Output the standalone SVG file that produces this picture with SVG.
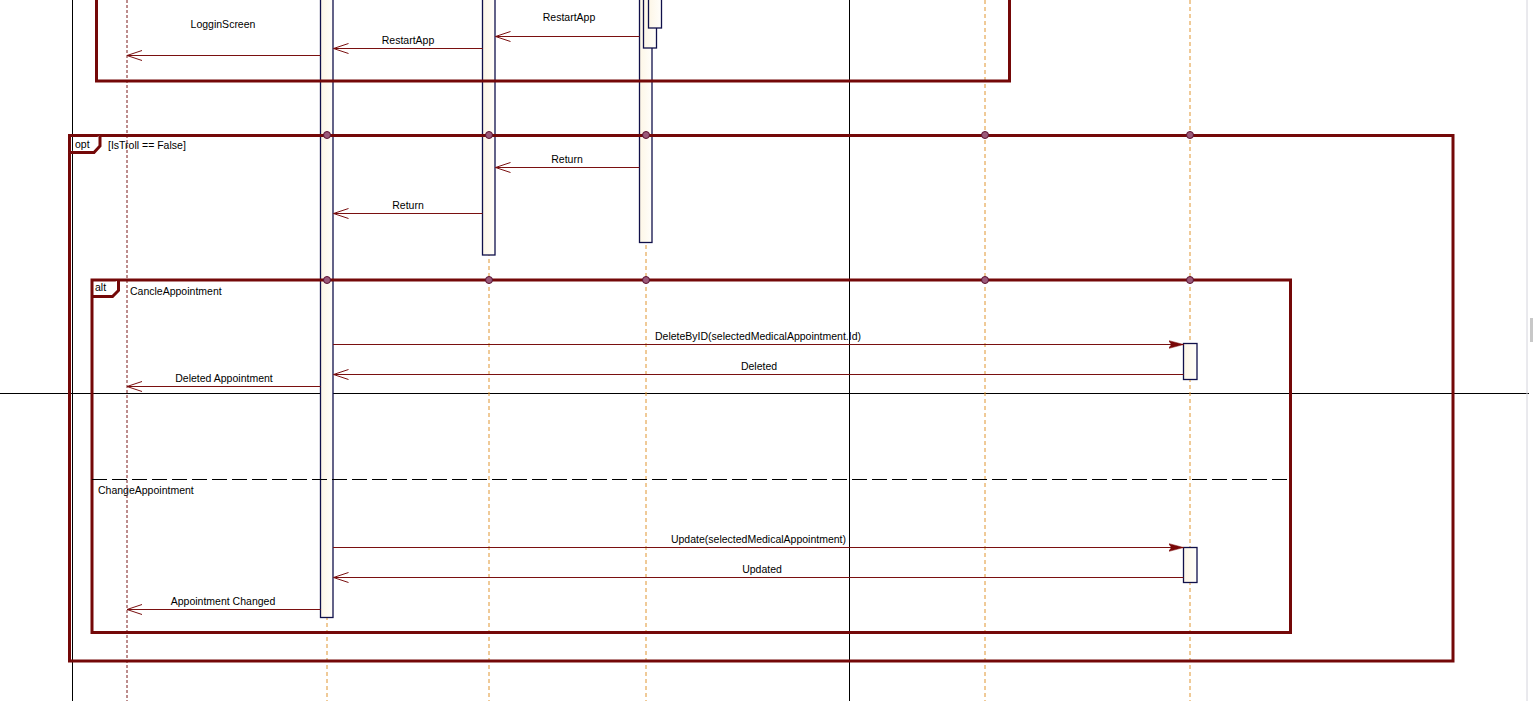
<svg xmlns="http://www.w3.org/2000/svg" width="1533" height="701" viewBox="0 0 1533 701">
<style>
text{font-family:"Liberation Sans",Arial,sans-serif;font-size:10.5px;fill:#000}
.lbl{text-anchor:middle}
.frame{fill:none;stroke:#740808;stroke-width:3}
.tab{fill:#fff;stroke:#740808;stroke-width:3}
.life{stroke:#e09530;stroke-width:1;stroke-dasharray:4 3;fill:none}
.life2{stroke:#7a1a1a;stroke-width:1;stroke-dasharray:3 2;fill:none}
.act{fill:url(#g);stroke:#10104a;stroke-width:1.3}
.msg{stroke:#7a1010;stroke-width:1;fill:none}
.sep{stroke:#000;stroke-width:1}
.dot{fill:#9b5a7a;stroke:#5a1030;stroke-width:1}
</style>
<defs>
<linearGradient id="g" x1="0" y1="0" x2="1" y2="0">
<stop offset="0" stop-color="#fdf6e6"/><stop offset="1" stop-color="#fffefb"/>
</linearGradient>
<marker id="open" markerWidth="16" markerHeight="12" refX="15" refY="6" orient="auto" markerUnits="userSpaceOnUse">
<path d="M0,1 L15,6 L0,11" fill="none" stroke="#7a1010" stroke-width="1"/>
</marker>
<marker id="fill" markerWidth="16" markerHeight="10" refX="15" refY="5" orient="auto" markerUnits="userSpaceOnUse">
<path d="M0,1 L15,5 L0,9 L3,5 Z" fill="#7a0808" stroke="#7a0808" stroke-width="0.5"/>
</marker>
</defs>
<rect width="1533" height="701" fill="#fff"/>

<!-- background lines -->
<g id="background">
<line x1="72.5" y1="0" x2="72.5" y2="701" class="sep"/>
<line x1="849.5" y1="0" x2="849.5" y2="701" class="sep"/>
<line x1="0" y1="393.5" x2="1529" y2="393.5" class="sep"/>
<line x1="1527" y1="0" x2="1527" y2="701" stroke="#d4d4dc" stroke-width="1"/>
<rect x="1530" y="318" width="3" height="24" fill="#c8c8c8"/>
</g>

<!-- lifelines -->
<g id="lifeline-user"><line x1="127" y1="0" x2="127" y2="701" class="life2"/></g>
<g id="lifeline-view"><line x1="327" y1="0" x2="327" y2="701" class="life"/>
<rect x="320.5" y="-5" width="12.5" height="622.5" class="act"/></g>
<g id="lifeline-vm"><line x1="489" y1="0" x2="489" y2="701" class="life"/>
<rect x="482.5" y="-5" width="12.5" height="260" class="act"/></g>
<g id="lifeline-service"><line x1="646" y1="0" x2="646" y2="701" class="life"/>
<rect x="639.5" y="-5" width="12.5" height="247.5" class="act"/>
<rect x="643.5" y="-5" width="13" height="53" class="act"/>
<rect x="648.5" y="-5" width="13" height="33" class="act"/></g>
<g id="lifeline-e"><line x1="985" y1="0" x2="985" y2="701" class="life"/></g>
<g id="lifeline-repo"><line x1="1190" y1="0" x2="1190" y2="701" class="life"/>
<rect x="1183.5" y="343.5" width="13.5" height="36" class="act"/>
<rect x="1183.5" y="547.5" width="13.5" height="35" class="act"/></g>

<!-- frames -->
<g id="frame-top">
<path d="M96.5,-5 V81 H1009.5 V-5" class="frame"/>
</g>
<g id="frame-opt">
<rect x="69.5" y="135.5" width="1383.5" height="525.5" class="frame"/>
<path d="M69.5,152.5 H94 L100,146 V135.5" class="tab"/>
<text x="75" y="148">opt</text>
<text x="108" y="149">[IsTroll == False]</text>
<g class="dot"><circle cx="327" cy="135" r="3.5"/><circle cx="489" cy="135" r="3.5"/><circle cx="646" cy="135" r="3.5"/><circle cx="985" cy="135" r="3.5"/><circle cx="1190" cy="135" r="3.5"/></g>
</g>
<g id="frame-alt">
<rect x="92" y="280" width="1198.5" height="352.5" class="frame"/>
<path d="M92,296.5 H112.5 L118.5,290.5 V280" class="tab"/>
<text x="95" y="291">alt</text>
<text x="130" y="295">CancleAppointment</text>
<line x1="92" y1="479.5" x2="1290" y2="479.5" stroke="#000" stroke-width="1" stroke-dasharray="15 5"/>
<text x="98" y="494">ChangeAppointment</text>
<g class="dot"><circle cx="327" cy="280" r="3.5"/><circle cx="489" cy="280" r="3.5"/><circle cx="646" cy="280" r="3.5"/><circle cx="985" cy="280" r="3.5"/><circle cx="1190" cy="280" r="3.5"/></g>
</g>

<!-- connectors -->
<g id="connectors">
<line x1="639.5" y1="36.5" x2="495.5" y2="36.5" class="msg" marker-end="url(#open)"/>
<text x="569" y="21" class="lbl">RestartApp</text>
<line x1="482.5" y1="48.5" x2="333.5" y2="48.5" class="msg" marker-end="url(#open)"/>
<text x="408" y="44" class="lbl">RestartApp</text>
<line x1="320.5" y1="55.5" x2="127" y2="55.5" class="msg" marker-end="url(#open)"/>
<text x="223" y="28" class="lbl">LogginScreen</text>
<line x1="639.5" y1="167.5" x2="495.5" y2="167.5" class="msg" marker-end="url(#open)"/>
<text x="567" y="163" class="lbl">Return</text>
<line x1="482.5" y1="213.5" x2="333.5" y2="213.5" class="msg" marker-end="url(#open)"/>
<text x="408" y="209" class="lbl">Return</text>
<line x1="333" y1="344.5" x2="1183.5" y2="344.5" class="msg" marker-end="url(#fill)"/>
<text x="758" y="340" class="lbl">DeleteByID(selectedMedicalAppointment.Id)</text>
<line x1="1183.5" y1="374.5" x2="333.5" y2="374.5" class="msg" marker-end="url(#open)"/>
<text x="759" y="370" class="lbl">Deleted</text>
<line x1="320.5" y1="386.5" x2="127" y2="386.5" class="msg" marker-end="url(#open)"/>
<text x="224" y="382" class="lbl">Deleted Appointment</text>
<line x1="333" y1="547.5" x2="1183.5" y2="547.5" class="msg" marker-end="url(#fill)"/>
<text x="758.5" y="543" class="lbl">Update(selectedMedicalAppointment)</text>
<line x1="1183.5" y1="577.5" x2="333.5" y2="577.5" class="msg" marker-end="url(#open)"/>
<text x="762" y="573" class="lbl">Updated</text>
<line x1="320.5" y1="609.5" x2="127" y2="609.5" class="msg" marker-end="url(#open)"/>
<text x="223" y="605" class="lbl">Appointment Changed</text>
</g>
</svg>
